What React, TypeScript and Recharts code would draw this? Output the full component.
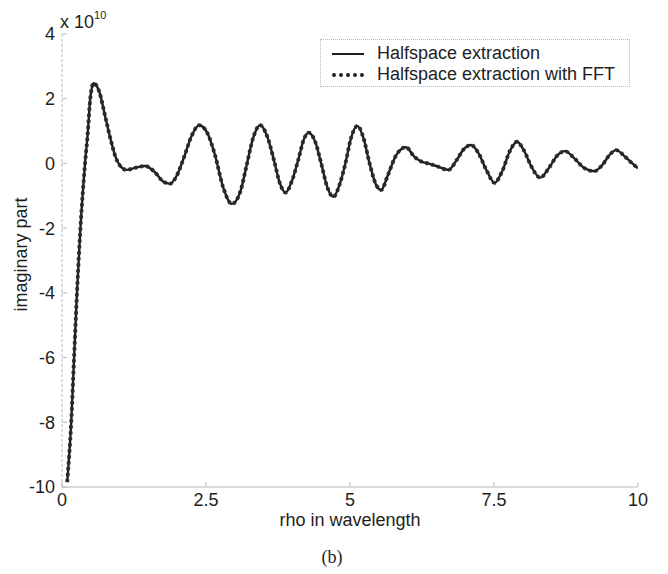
import React from "react";
import { LineChart, Line, XAxis, YAxis, Legend } from "recharts";

// rho in wavelength, imaginary part in units of 1e10
const rho = [
  0.09, 0.16, 0.21, 0.26, 0.32, 0.4, 0.45, 0.49, 0.55, 0.65, 0.75, 0.85, 0.93, 1.02,
  1.12, 1.28, 1.44, 1.6, 1.75, 1.87, 2.0, 2.12, 2.25, 2.38, 2.52, 2.65, 2.8, 2.95,
  3.1, 3.2, 3.32, 3.44, 3.56, 3.68, 3.78, 3.88, 4.0, 4.1, 4.2, 4.28, 4.4, 4.5,
  4.6, 4.71, 4.82, 4.92, 5.02, 5.13, 5.24, 5.34, 5.45, 5.54, 5.66, 5.8, 5.97, 6.12,
  6.25, 6.35, 6.5, 6.71, 6.85, 6.98, 7.1, 7.22, 7.38, 7.51, 7.64, 7.78, 7.9, 8.02,
  8.15, 8.3, 8.45, 8.6, 8.73, 8.9, 9.05, 9.24, 9.38, 9.5, 9.62, 9.78, 9.9, 10.0,
];

const halfspace = [
  -9.85, -8.0, -6.0, -4.0, -2.0, 0.0, 1.0, 2.0, 2.48, 2.2, 1.45, 0.7, 0.2, -0.1,
  -0.2, -0.13, -0.08, -0.25, -0.55, -0.63, -0.35, 0.2, 0.85, 1.18, 0.95, 0.3, -0.75, -1.25,
  -0.85, -0.1, 0.8, 1.18, 0.85, 0.1, -0.6, -0.9, -0.5, 0.1, 0.75, 0.95, 0.65, 0.0,
  -0.7, -1.03, -0.65, 0.0, 0.8, 1.16, 0.75, 0.0, -0.65, -0.82, -0.35, 0.25, 0.5, 0.2,
  0.05, 0.0, -0.08, -0.2, 0.1, 0.45, 0.57, 0.35, -0.25, -0.6, -0.25, 0.4, 0.67, 0.4,
  -0.1, -0.44, -0.15, 0.25, 0.38, 0.15, -0.12, -0.24, -0.05, 0.25, 0.41, 0.2, 0.0, -0.15,
];

const halfspaceFft = [
  -9.85, -8.0, -6.0, -4.0, -2.0, 0.0, 1.0, 2.0, 2.48, 2.2, 1.45, 0.7, 0.2, -0.1,
  -0.2, -0.13, -0.08, -0.25, -0.55, -0.63, -0.35, 0.2, 0.85, 1.18, 0.95, 0.3, -0.75, -1.25,
  -0.85, -0.1, 0.8, 1.18, 0.85, 0.1, -0.6, -0.9, -0.5, 0.1, 0.75, 0.95, 0.65, 0.0,
  -0.7, -1.03, -0.65, 0.0, 0.8, 1.16, 0.75, 0.0, -0.65, -0.82, -0.35, 0.25, 0.5, 0.2,
  0.05, 0.0, -0.08, -0.2, 0.1, 0.45, 0.57, 0.35, -0.25, -0.6, -0.25, 0.4, 0.67, 0.4,
  -0.1, -0.44, -0.15, 0.25, 0.38, 0.15, -0.12, -0.24, -0.05, 0.25, 0.41, 0.2, 0.0, -0.15,
];

const xTicks = [0, 2.5, 5, 7.5, 10];
const yTicks = [-10, -8, -6, -4, -2, 0, 2, 4];

const data = rho.map((r, i) => ({ rho: r, exact: halfspace[i], fft: halfspaceFft[i] }));

const FONT = '"Liberation Sans", Arial, sans-serif';
const INK = "#1e1e1e";
const BOX = "#b8b8b8";

const tickStyle = { fontSize: 18, fill: INK, fontFamily: FONT };

const YLabel = ({ viewBox }: any) => {
  const cx = 21;
  const cy = viewBox.y + viewBox.height / 2 - 6;
  return (
    <text
      x={cx}
      y={cy}
      transform={`rotate(-90, ${cx}, ${cy})`}
      textAnchor="middle"
      dominantBaseline="central"
      style={tickStyle}
    >
      imaginary part
    </text>
  );
};

const LegendBox = () => (
  <div
    style={{
      width: 310,
      height: 48,
      border: `1px dotted ${BOX}`,
      background: "#fff",
      fontFamily: FONT,
      fontSize: 18,
      color: INK,
      boxSizing: "border-box",
      paddingTop: 3,
    }}
  >
    <div style={{ display: "flex", alignItems: "center", height: 21 }}>
      <span style={{ display: "inline-block", width: 32, height: 0, borderTop: `2px solid ${INK}`, marginLeft: 11, marginRight: 13 }} />
      <span>Halfspace extraction</span>
    </div>
    <div style={{ display: "flex", alignItems: "center", height: 21 }}>
      <span style={{ display: "inline-block", width: 32, height: 0, borderTop: `4px dotted ${INK}`, marginLeft: 11, marginRight: 13 }} />
      <span>Halfspace extraction with FFT</span>
    </div>
  </div>
);

export default function App() {
  return (
    <div style={{ position: "absolute", left: 0, top: 0, width: 668, height: 574, background: "#fff" }}>
      <LineChart
        width={668}
        height={574}
        data={data}
        margin={{ top: 34, right: 30, bottom: 57, left: 22 }}
      >
        <XAxis
          dataKey="rho"
          type="number"
          domain={[0, 10]}
          ticks={xTicks}
          height={30}
          allowDataOverflow
          tick={tickStyle}
          tickSize={-5}
          tickMargin={11}
          axisLine={{ stroke: BOX }}
          tickLine={{ stroke: BOX }}
          label={{ value: "rho in wavelength", position: "insideBottom", offset: -9, style: { ...tickStyle, textAnchor: "middle" } }}
        />
        <XAxis
          xAxisId="top"
          orientation="top"
          type="number"
          domain={[0, 10]}
          ticks={xTicks}
          height={0}
          tick={false}
          tickSize={-5}
          axisLine={{ stroke: BOX, strokeDasharray: "2 2" }}
          tickLine={{ stroke: BOX }}
        />
        <YAxis
          type="number"
          domain={[-10, 4]}
          ticks={yTicks}
          width={40}
          allowDataOverflow
          tick={tickStyle}
          tickSize={-5}
          tickMargin={12}
          axisLine={{ stroke: BOX, strokeDasharray: "3 2" }}
          tickLine={{ stroke: BOX }}
          label={<YLabel />}
        />
        <YAxis
          yAxisId="right"
          orientation="right"
          type="number"
          domain={[-10, 4]}
          ticks={yTicks}
          width={0}
          tick={false}
          tickSize={-5}
          axisLine={{ stroke: BOX, strokeDasharray: "2 3" }}
          tickLine={{ stroke: BOX }}
        />
        <Legend
          verticalAlign="middle"
          layout="horizontal"
          content={<LegendBox />}
          wrapperStyle={{ position: "absolute", left: 320, top: 39, width: 310, height: 48 }}
        />
        <Line
          type="monotone"
          dataKey="exact"
          stroke={INK}
          strokeWidth={2.4}
          dot={false}
          isAnimationActive={false}
        />
        <Line
          type="monotone"
          dataKey="fft"
          stroke="#2a2a2a"
          strokeWidth={3.8}
          strokeDasharray="3 3"
          dot={false}
          isAnimationActive={false}
        />
      </LineChart>
      <div style={{ position: "absolute", left: 60, top: 11, fontFamily: FONT, fontSize: 18, color: INK, whiteSpace: "nowrap" }}>
        x 10<sup style={{ fontSize: 11, position: "relative", top: -2 }}>10</sup>
      </div>
      <div style={{ position: "absolute", left: 0, width: 668, top: 547, textAlign: "center", fontFamily: '"Liberation Serif", "DejaVu Serif", serif', fontSize: 18, color: INK }}>
        <span style={{ position: "relative", left: -2 }}>(b)</span>
      </div>
    </div>
  );
}
